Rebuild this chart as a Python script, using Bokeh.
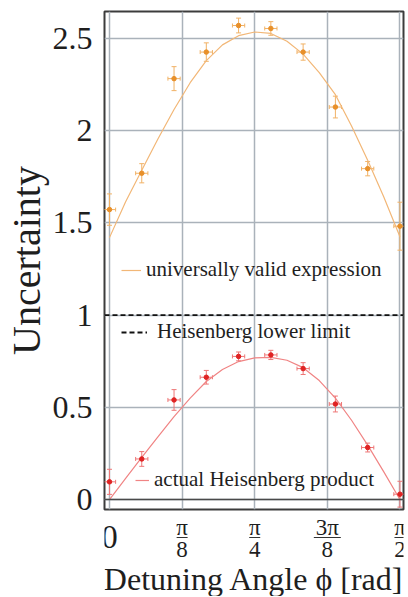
import numpy as np
from bokeh.plotting import figure
from bokeh.layouts import column
from bokeh.models import (ColumnDataSource, FixedTicker, Whisker, TeeHead, Legend,
                          LegendItem, Span, Range1d)
from bokeh.core.properties import value
from bokeh.embed import file_html
from bokeh.resources import INLINE

# ---------------- data ----------------
point_angle_deg = [0, 10, 20, 30, 40, 50, 60, 70, 80, 90]
universal_pts = [1.572, 1.769, 2.282, 2.426, 2.570, 2.554, 2.426, 2.128, 1.794, 1.482]
universal_err = [0.085, 0.052, 0.065, 0.050, 0.040, 0.037, 0.044, 0.059, 0.039, 0.130]
heis_pts = [0.096, 0.220, 0.540, 0.663, 0.776, 0.784, 0.710, 0.518, 0.282, 0.029]
heis_err = [0.068, 0.040, 0.056, 0.037, 0.024, 0.025, 0.032, 0.043, 0.024, 0.070]
angle_err_deg = [1.9, 1.9, 1.9, 1.9, 1.9, 1.9, 1.9, 1.9, 1.9, 1.9]

curve_angle_deg = [0, 5, 10, 15, 20, 25, 30, 35, 40, 45, 50, 55, 60, 65, 70, 75, 80, 85, 90]
universal_curve = [1.420, 1.615, 1.785, 1.955, 2.115, 2.260, 2.380, 2.465, 2.515, 2.535,
                   2.527, 2.485, 2.415, 2.315, 2.195, 2.025, 1.840, 1.640, 1.425]
heis_curve = [0.000, 0.115, 0.228, 0.340, 0.450, 0.550, 0.640, 0.705, 0.748, 0.768,
              0.771, 0.755, 0.715, 0.645, 0.550, 0.430, 0.295, 0.150, 0.000]

heisenberg_limit = 1.0
zero_level = 0.0

x_ticks = [0, np.pi / 8, np.pi / 4, 3 * np.pi / 8, np.pi / 2]
x_tick_zero = "0"
x_frac_num = ["π", "π", "3π", "π"]
x_frac_den = ["8", "4", "8", "2"]
y_ticks = [0, 0.5, 1, 1.5, 2, 2.5]
y_tick_labels = ["0", "0.5", "1", "1.5", "2", "2.5"]
x_title = "Detuning Angle ϕ [rad]"
y_title = "Uncertainty"

x_lo, x_hi = -0.027, 1.590
y_lo, y_hi = -0.054, 2.646

# ---------------- styling / layout ----------------
FONT = "Liberation Serif"
ORANGE_PT = "#e8902a"
ORANGE_ERR = "#f1b266"
ORANGE_LINE = "#f2b777"
RED_PT = "#df2323"
RED_ERR = "#ee7676"
RED_LINE = "#f08484"
GRID = "#aab2ba"
TEXT = "#1e1e1e"

W = 407
MAIN_H, LOWER_H = 516, 80
BORDER_L, BORDER_R = 104, 4
# rows of the lower (tick-label) strip, px from its top edge
ROW_NUM, ROW_BAR, ROW_ZERO, ROW_DEN, ROW_TITLE = 11, 21, 20.4, 33.4, 62.4
BAR_W = [11, 11, 27, 11]

p = figure(width=W, height=MAIN_H, output_backend="svg", toolbar_location=None,
           x_range=Range1d(x_lo, x_hi), y_range=Range1d(y_lo, y_hi),
           x_axis_location=None,
           min_border_left=BORDER_L, min_border_right=BORDER_R,
           min_border_top=11, min_border_bottom=7)
p.background_fill_color = "white"
p.border_fill_color = "white"
p.outline_line_color = "#3c3c3c"
p.outline_line_width = 2

# y axis
p.yaxis.ticker = FixedTicker(ticks=y_ticks)
p.yaxis.major_label_overrides = {t: s for t, s in zip(y_ticks, y_tick_labels)}
p.yaxis.axis_line_color = None
p.yaxis.major_tick_line_color = None
p.yaxis.minor_tick_line_color = None
p.yaxis.major_tick_out = 0
p.yaxis.major_tick_in = 0
p.yaxis.major_label_text_font = FONT
p.yaxis.major_label_text_color = TEXT
p.yaxis.major_label_text_font_size = "32px"
p.yaxis.major_label_standoff = 12
p.yaxis.axis_label = y_title
p.yaxis.axis_label_text_font = FONT
p.yaxis.axis_label_text_font_style = "normal"
p.yaxis.axis_label_text_color = TEXT
p.yaxis.axis_label_text_font_size = "40px"
p.yaxis.axis_label_standoff = 1

p.xgrid.ticker = FixedTicker(ticks=x_ticks)
p.ygrid.ticker = FixedTicker(ticks=y_ticks)
p.xgrid.grid_line_color = GRID
p.ygrid.grid_line_color = GRID
p.xgrid.grid_line_width = 1.5
p.ygrid.grid_line_width = 1.5

p.add_layout(Span(location=zero_level, dimension="width", line_color="#4a4a4a", line_width=1.5))

# ---------------- data sources ----------------
phi_pts = np.deg2rad(point_angle_deg)
phi_err = np.deg2rad(angle_err_deg)
phi_curve = np.deg2rad(curve_angle_deg)

src_u = ColumnDataSource(dict(
    x=phi_pts, y=universal_pts,
    ylo=np.array(universal_pts) - np.array(universal_err),
    yhi=np.array(universal_pts) + np.array(universal_err),
    xlo=phi_pts - phi_err, xhi=phi_pts + phi_err))
src_h = ColumnDataSource(dict(
    x=phi_pts, y=heis_pts,
    ylo=np.array(heis_pts) - np.array(heis_err),
    yhi=np.array(heis_pts) + np.array(heis_err),
    xlo=phi_pts - phi_err, xhi=phi_pts + phi_err))

r_u = p.line(phi_curve, universal_curve, line_color=ORANGE_LINE, line_width=1.2)
r_h = p.line(phi_curve, heis_curve, line_color=RED_LINE, line_width=1.2)
r_lim = p.line([x_lo, x_hi], [heisenberg_limit, heisenberg_limit],
               line_color="#111111", line_width=1.8, line_dash="5 3")

for src, col in ((src_u, ORANGE_ERR), (src_h, RED_ERR)):
    p.add_layout(Whisker(source=src, base="x", lower="ylo", upper="yhi", dimension="height",
                         line_color=col, line_width=1,
                         lower_head=TeeHead(size=5, line_color=col, line_width=1),
                         upper_head=TeeHead(size=5, line_color=col, line_width=1)))
    p.add_layout(Whisker(source=src, base="y", lower="xlo", upper="xhi", dimension="width",
                         line_color=col, line_width=1,
                         lower_head=TeeHead(size=4, line_color=col, line_width=1),
                         upper_head=TeeHead(size=4, line_color=col, line_width=1)))

p.scatter("x", "y", source=src_u, size=4.5, color=ORANGE_PT)
p.scatter("x", "y", source=src_h, size=4.5, color=RED_PT)


def make_legend(label, rend, loc, gw, standoff):
    lg = Legend(items=[LegendItem(label=label, renderers=[rend])], location=loc,
                border_line_color=None, background_fill_alpha=0, padding=0, margin=0,
                glyph_width=gw, glyph_height=20, label_standoff=standoff,
                label_text_font=FONT, label_text_font_size="21px",
                label_text_color=TEXT)
    p.add_layout(lg)


make_legend("universally valid expression", r_u, (17, 227), 20, 5)
make_legend("Heisenberg lower limit", r_lim, (17, 165), 26, 10)
make_legend("actual Heisenberg product", r_h, (31, 17), 14, 5)

# ---------------- lower strip: x tick labels (fractions) and x title ----------------
# (its frame is aligned with the main frame by the column layout, x range shared)
q = figure(width=W, height=LOWER_H, output_backend="svg", toolbar_location=None,
           x_range=p.x_range, y_range=Range1d(LOWER_H, 0),
           x_axis_location=None, y_axis_location=None,
           min_border_left=BORDER_L, min_border_right=BORDER_R,
           min_border_top=0, min_border_bottom=0)
q.outline_line_color = None
q.grid.visible = False
q.background_fill_color = "white"
q.border_fill_color = "white"

frac_x = x_ticks[1:]
q.text(x=[x_ticks[0]], y=[ROW_ZERO], text=[x_tick_zero], text_align="center",
       text_baseline="alphabetic", text_font=value(FONT), text_font_size="33px",
       text_color=TEXT)
q.text(x=frac_x, y=[ROW_NUM] * 4, text=x_frac_num, text_align="center",
       text_baseline="alphabetic", text_font=value(FONT), text_font_size="23px",
       text_color=TEXT)
q.rect(x=frac_x, y=[ROW_BAR] * 4, width=BAR_W, height=1.2, width_units="screen",
       height_units="screen", fill_color="#333333", line_color=None)
q.text(x=frac_x, y=[ROW_DEN] * 4, text=x_frac_den, text_align="center",
       text_baseline="alphabetic", text_font=value(FONT), text_font_size="23px",
       text_color=TEXT)
q.text(x=[(x_lo + x_hi) / 2], y=[ROW_TITLE], text=[x_title], text_align="center",
       text_baseline="alphabetic", text_font=value(FONT), text_font_size="32px",
       text_color=TEXT)

layout = column(p, q, spacing=0)
open("out.html", "w").write(file_html(layout, INLINE))
